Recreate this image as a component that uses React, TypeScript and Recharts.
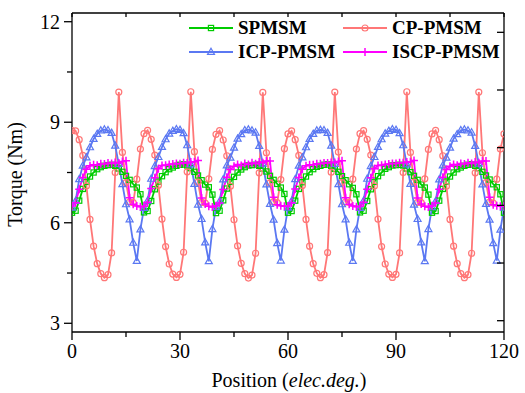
import { LineChart, Line, XAxis, YAxis } from "recharts";

const FONT = "'Liberation Serif', 'Times New Roman', serif";
const textStyle = { fontFamily: FONT, fontSize: 20 };

// electrical position in degrees, one sample per degree
const positions = [
  0, 1, 2, 3, 4, 5, 6, 7, 8, 9, 10, 11, 12, 13, 14, 15, 16, 17, 18, 19,
  20, 21, 22, 23, 24, 25, 26, 27, 28, 29, 30, 31, 32, 33, 34, 35, 36, 37, 38, 39,
  40, 41, 42, 43, 44, 45, 46, 47, 48, 49, 50, 51, 52, 53, 54, 55, 56, 57, 58, 59,
  60, 61, 62, 63, 64, 65, 66, 67, 68, 69, 70, 71, 72, 73, 74, 75, 76, 77, 78, 79,
  80, 81, 82, 83, 84, 85, 86, 87, 88, 89, 90, 91, 92, 93, 94, 95, 96, 97, 98, 99,
  100, 101, 102, 103, 104, 105, 106, 107, 108, 109, 110, 111, 112, 113, 114, 115, 116, 117, 118, 119,
  120,
];

const spmsm = [
  6.30, 6.36, 6.66, 7.01, 7.22, 7.38, 7.50, 7.60, 7.66, 7.70, 7.72, 7.73, 7.70, 7.62, 7.52, 7.40, 7.28, 7.15, 7.05, 6.85,
  6.31, 6.35, 6.65, 7.00, 7.23, 7.39, 7.51, 7.60, 7.65, 7.70, 7.73, 7.74, 7.71, 7.63, 7.52, 7.41, 7.27, 7.14, 7.06, 6.84,
  6.29, 6.36, 6.67, 7.02, 7.22, 7.37, 7.50, 7.59, 7.66, 7.71, 7.72, 7.73, 7.70, 7.62, 7.53, 7.40, 7.28, 7.16, 7.05, 6.86,
  6.30, 6.35, 6.66, 7.01, 7.21, 7.38, 7.51, 7.60, 7.67, 7.70, 7.73, 7.74, 7.70, 7.61, 7.52, 7.39, 7.27, 7.15, 7.04, 6.85,
  6.31, 6.36, 6.65, 7.00, 7.22, 7.39, 7.50, 7.61, 7.66, 7.71, 7.72, 7.73, 7.71, 7.62, 7.51, 7.40, 7.28, 7.14, 7.05, 6.84,
  6.30, 6.35, 6.66, 7.01, 7.23, 7.38, 7.50, 7.60, 7.65, 7.70, 7.73, 7.74, 7.70, 7.63, 7.52, 7.41, 7.29, 7.15, 7.06, 6.85,
  6.30,
];

const cpPmsm = [
  8.75, 8.74, 8.48, 8.01, 7.10, 6.10, 5.30, 4.78, 4.48, 4.36, 4.45, 5.10, 7.50, 9.90, 8.10, 7.20, 6.62, 6.60, 7.30, 8.20,
  8.66, 8.76, 8.49, 8.02, 7.12, 6.11, 5.29, 4.77, 4.47, 4.37, 4.46, 5.12, 7.52, 9.91, 8.12, 7.21, 6.61, 6.59, 7.31, 8.19,
  8.64, 8.75, 8.47, 8.00, 7.09, 6.09, 5.31, 4.79, 4.48, 4.35, 4.44, 5.09, 7.49, 9.89, 8.09, 7.19, 6.63, 6.60, 7.29, 8.21,
  8.65, 8.74, 8.48, 8.01, 7.11, 6.10, 5.30, 4.78, 4.49, 4.36, 4.45, 5.11, 7.51, 9.90, 8.11, 7.20, 6.62, 6.61, 7.30, 8.20,
  8.66, 8.75, 8.49, 8.02, 7.10, 6.11, 5.29, 4.77, 4.47, 4.37, 4.46, 5.10, 7.50, 9.91, 8.10, 7.21, 6.61, 6.60, 7.31, 8.19,
  8.65, 8.76, 8.48, 8.00, 7.09, 6.10, 5.30, 4.78, 4.48, 4.36, 4.45, 5.09, 7.49, 9.90, 8.09, 7.20, 6.62, 6.59, 7.30, 8.20,
  8.65,
];

const icpPmsm = [
  6.45, 6.65, 7.30, 7.70, 7.95, 8.25, 8.50, 8.65, 8.75, 8.78, 8.76, 8.68, 8.30, 7.75, 7.15, 6.55, 6.10, 5.40, 4.86, 5.80,
  6.44, 6.66, 7.31, 7.69, 7.96, 8.26, 8.49, 8.66, 8.74, 8.79, 8.77, 8.67, 8.31, 7.74, 7.16, 6.54, 6.11, 5.41, 4.85, 5.81,
  6.46, 6.64, 7.29, 7.71, 7.94, 8.24, 8.51, 8.64, 8.76, 8.78, 8.75, 8.69, 8.29, 7.76, 7.14, 6.56, 6.09, 5.39, 4.87, 5.79,
  6.45, 6.65, 7.30, 7.70, 7.95, 8.25, 8.50, 8.65, 8.75, 8.77, 8.76, 8.68, 8.30, 7.75, 7.15, 6.55, 6.10, 5.40, 4.86, 5.80,
  6.44, 6.66, 7.31, 7.69, 7.96, 8.26, 8.49, 8.66, 8.74, 8.79, 8.77, 8.67, 8.31, 7.74, 7.16, 6.54, 6.11, 5.41, 4.85, 5.81,
  6.46, 6.64, 7.29, 7.71, 7.94, 8.24, 8.51, 8.64, 8.76, 8.78, 8.75, 8.69, 8.29, 7.76, 7.14, 6.56, 6.09, 5.39, 4.87, 5.79,
  6.45,
];

const iscpPmsm = [
  6.50, 6.60, 7.00, 7.35, 7.60, 7.70, 7.73, 7.72, 7.76, 7.75, 7.78, 7.77, 7.80, 7.78, 7.83, 7.85, 6.75, 6.55, 6.50, 6.48,
  6.49, 6.61, 7.02, 7.34, 7.61, 7.71, 7.72, 7.74, 7.75, 7.77, 7.76, 7.79, 7.78, 7.81, 7.82, 7.86, 6.74, 6.56, 6.49, 6.47,
  6.51, 6.59, 6.99, 7.36, 7.59, 7.69, 7.74, 7.71, 7.77, 7.74, 7.79, 7.76, 7.81, 7.79, 7.84, 7.84, 6.76, 6.54, 6.51, 6.49,
  6.50, 6.60, 7.01, 7.35, 7.60, 7.70, 7.73, 7.73, 7.76, 7.76, 7.78, 7.78, 7.80, 7.80, 7.83, 7.85, 6.75, 6.55, 6.50, 6.48,
  6.49, 6.61, 7.00, 7.34, 7.61, 7.71, 7.72, 7.74, 7.75, 7.77, 7.77, 7.79, 7.79, 7.81, 7.82, 7.86, 6.74, 6.56, 6.49, 6.47,
  6.51, 6.59, 7.00, 7.36, 7.59, 7.69, 7.74, 7.72, 7.77, 7.75, 7.79, 7.77, 7.81, 7.79, 7.84, 7.84, 6.76, 6.54, 6.51, 6.49,
  6.50,
];

const xTicks = [0, 15, 30, 45, 60, 75, 90, 105, 120];
const yTicks = [3, 4.5, 6, 7.5, 9, 10.5, 12];
// the right frame carries its own evenly spaced ticks, unlabeled
const rightTicks = [0, 1, 2, 3, 4, 5];

const series = [
  { key: "spmsm", name: "SPMSM", color: "#00cc00", shape: "square" },
  { key: "cp", name: "CP-PMSM", color: "#ff7777", shape: "circle" },
  { key: "icp", name: "ICP-PMSM", color: "#5b78f2", shape: "triangle" },
  { key: "iscp", name: "ISCP-PMSM", color: "#ff00ff", shape: "plus" },
];

const data = positions.map((p, i) => ({
  pos: p,
  spmsm: spmsm[i],
  cp: cpPmsm[i],
  icp: icpPmsm[i],
  iscp: iscpPmsm[i],
}));

const Marker = ({ shape, cx, cy, color }: any) => {
  if (cx == null || cy == null) return null;
  switch (shape) {
    case "square":
      return <rect x={cx - 2.6} y={cy - 2.6} width={5.2} height={5.2} fill="none" stroke={color} strokeWidth={1.2} />;
    case "circle":
      return <circle cx={cx} cy={cy} r={3} fill="none" stroke={color} strokeWidth={1.2} />;
    case "triangle":
      return (
        <path
          d={`M${cx},${cy - 3.8} L${cx + 3.5},${cy + 2.4} L${cx - 3.5},${cy + 2.4} Z`}
          fill="none"
          stroke={color}
          strokeWidth={1.2}
        />
      );
    default:
      return <path d={`M${cx - 4},${cy} H${cx + 4} M${cx},${cy - 4} V${cy + 4}`} stroke={color} strokeWidth={1.5} />;
  }
};

const BottomTick = ({ x, y, payload }: any) => {
  const major = payload.value % 30 === 0;
  return (
    <g>
      <line x1={x} x2={x} y1={y} y2={y + (major ? 8 : 5)} stroke="#000" strokeWidth={1.3} />
      {major && (
        <text x={x} y={y + 26} textAnchor="middle" style={textStyle} fill="#000">
          {payload.value}
        </text>
      )}
    </g>
  );
};

const LeftTick = ({ x, y, payload }: any) => {
  const major = payload.value % 3 === 0;
  return (
    <g>
      <line x1={x - (major ? 8 : 5)} x2={x} y1={y} y2={y} stroke="#000" strokeWidth={1.3} />
      {major && (
        <text x={x - 12} y={y + 7} textAnchor="end" style={textStyle} fill="#000">
          {payload.value}
        </text>
      )}
    </g>
  );
};

const TopTick = ({ x, y }: any) => <line x1={x} x2={x} y1={y} y2={y + 4} stroke="#000" strokeWidth={1.3} />;

const RightTick = ({ x, y }: any) => <line x1={x - 7} x2={x} y1={y} y2={y} stroke="#000" strokeWidth={1.3} />;

const YTitle = ({ viewBox }: any) => (
  <text
    transform={`translate(22, ${viewBox.y + viewBox.height / 2 + 2}) rotate(-90)`}
    textAnchor="middle"
    style={textStyle}
    fill="#000"
  >
    Torque (Nm)
  </text>
);

const XTitle = ({ viewBox }: any) => (
  <text x={viewBox.x + viewBox.width / 2 + 1} y={387} textAnchor="middle" style={textStyle} fill="#000">
    Position (<tspan style={{ fontStyle: "italic" }}>elec.deg.</tspan>)
  </text>
);

const LegendBox = () => (
  <div
    style={{
      position: "absolute",
      left: 189,
      top: 16,
      display: "grid",
      gridTemplateColumns: "154px auto",
      gridAutoRows: "24px",
      fontFamily: FONT,
      fontWeight: "bold",
      fontSize: 19,
      color: "#000",
    }}
  >
    {series.map((s) => (
      <div key={s.key} style={{ display: "flex", alignItems: "center", whiteSpace: "nowrap" }}>
        <svg width={44} height={14} style={{ marginRight: 5 }}>
          <line x1={0} x2={44} y1={7} y2={7} stroke={s.color} strokeWidth={2} />
          <Marker shape={s.shape} cx={22} cy={7} color={s.color} />
        </svg>
        <span>{s.name}</span>
      </div>
    ))}
  </div>
);

export default function App() {
  return (
    <div style={{ position: "absolute", left: 0, top: 0, width: 525, height: 393, background: "#fff", fontFamily: FONT }}>
      <LineChart width={525} height={393} data={data} margin={{ top: 0, right: 0, bottom: 0, left: 0 }} style={{ fontFamily: FONT }}>
        <XAxis
          dataKey="pos"
          type="number"
          domain={[0, 120]}
          ticks={xTicks}
          interval={0}
          allowDataOverflow
          height={61}
          tickSize={0}
          tickMargin={0}
          tickLine={false}
          axisLine={{ stroke: "#000", strokeWidth: 1.3 }}
          tick={<BottomTick />}
          label={<XTitle />}
        />
        <XAxis
          xAxisId="top"
          orientation="top"
          dataKey="pos"
          type="number"
          domain={[0, 120]}
          ticks={xTicks}
          interval={0}
          allowDataOverflow
          height={13}
          tickSize={0}
          tickMargin={0}
          tickLine={false}
          axisLine={{ stroke: "#000", strokeWidth: 1.3 }}
          tick={<TopTick />}
        />
        <YAxis
          type="number"
          domain={[2.74, 12.26]}
          ticks={yTicks}
          interval={0}
          allowDataOverflow
          width={72}
          tickSize={0}
          tickMargin={0}
          tickLine={false}
          axisLine={{ stroke: "#000", strokeWidth: 1.3 }}
          tick={<LeftTick />}
          label={<YTitle />}
        />
        <YAxis
          yAxisId="right"
          orientation="right"
          type="number"
          domain={[-0.196, 5.335]}
          ticks={rightTicks}
          interval={0}
          allowDataOverflow
          width={21}
          tickSize={0}
          tickMargin={0}
          tickLine={false}
          axisLine={{ stroke: "#000", strokeWidth: 1.3 }}
          tick={<RightTick />}
        />
        {series.map((s) => (
          <Line
            key={s.key}
            dataKey={s.key}
            name={s.name}
            stroke={s.color}
            strokeWidth={1.8}
            isAnimationActive={false}
            dot={(p: any) => <Marker key={`${s.key}-${p.index}`} shape={s.shape} cx={p.cx} cy={p.cy} color={s.color} />}
          />
        ))}
      </LineChart>
      <LegendBox />
    </div>
  );
}
